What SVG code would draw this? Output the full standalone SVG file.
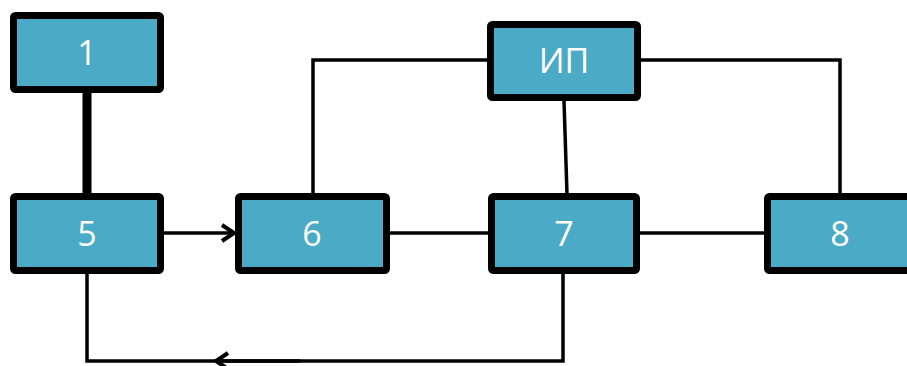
<svg xmlns="http://www.w3.org/2000/svg" width="907" height="366" viewBox="0 0 907 366">
<style>
.box{fill:#4BAAC5;stroke:#000;stroke-width:7;}
.lbl{fill:#fff;font-family:"Open Sans","Noto Sans",sans-serif;font-size:34px;text-anchor:middle;}
.ln{fill:none;stroke:#000;stroke-width:3.5;}
</style>
<defs>
<marker id="arr" markerWidth="20" markerHeight="22" refX="15" refY="10" orient="auto" markerUnits="userSpaceOnUse">
<path d="M3,2 L15,10 L3,18" fill="none" stroke="#000" stroke-width="4"/>
</marker>
</defs>
<g id="connectors">
<line x1="87" y1="92" x2="87" y2="194" stroke="#000" stroke-width="9"/>
<line class="ln" x1="164" y1="233" x2="234" y2="233" marker-end="url(#arr)"/>
<line class="ln" x1="390" y1="233" x2="488" y2="233" stroke-width="3"/>
<line class="ln" x1="640" y1="233" x2="764" y2="233"/>
<polyline class="ln" points="487,60 313,60 313,194" stroke-width="3"/>
<polyline class="ln" points="641,60 840,60 840,194" stroke-width="3"/>
<line class="ln" x1="564" y1="101" x2="567" y2="194" stroke-width="3"/>
<polyline class="ln" points="563,274 563,361 87,361 87,274" stroke-width="4"/>
<line class="ln" x1="300" y1="361" x2="216" y2="361" stroke-width="4" marker-end="url(#arr)"/>
</g>
<g id="n1"><rect class="box" x="13.5" y="15.5" width="147" height="74" rx="2"/><text class="lbl" x="87" y="65">1</text></g>
<g id="n5"><rect class="box" x="13.5" y="196.5" width="147" height="74" rx="2"/><text class="lbl" x="87" y="246">5</text></g>
<g id="n6"><rect class="box" x="238.5" y="196.5" width="148" height="74" rx="2"/><text class="lbl" x="312" y="246">6</text></g>
<g id="n7"><rect class="box" x="491.5" y="196.5" width="145" height="74" rx="2"/><text class="lbl" x="564" y="246">7</text></g>
<g id="n8"><rect class="box" x="767.5" y="196.5" width="148" height="74" rx="2"/><text class="lbl" x="840" y="246">8</text></g>
<g id="nIP"><rect class="box" x="490.5" y="24.5" width="147" height="73" rx="2"/><text class="lbl" x="564" y="73">ИП</text></g>
</svg>
